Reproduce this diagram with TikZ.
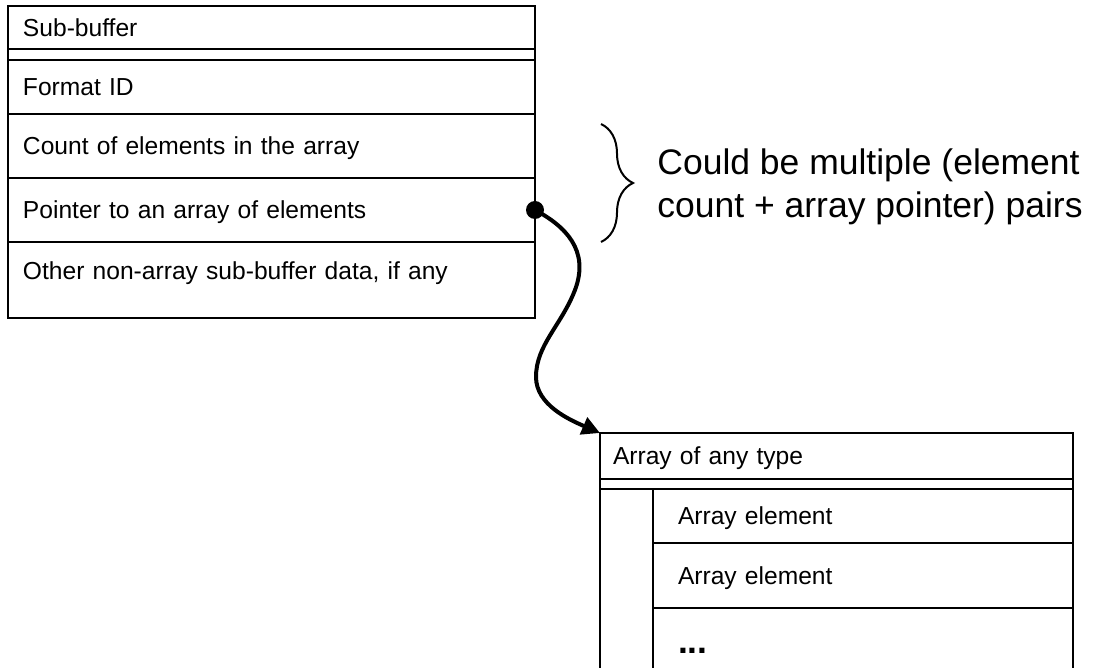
\documentclass[tikz,border=0pt]{standalone}
\usepackage{fontspec}
\setmainfont{Liberation Sans}
\usetikzlibrary{positioning,arrows.meta,decorations.pathreplacing}

\begin{document}
\begin{tikzpicture}[x=0.5pt,y=-0.5pt,
    row/.style={draw,line width=0.75pt,outer sep=0pt,anchor=north west,
        minimum width=263.5pt,text width=248.5pt,inner xsep=7.5pt,align=left,
        font=\fontsize{12.3pt}{14pt}\selectfont,text height=8.9pt,text depth=0pt},
    gaprow/.style={row,text height=0pt,inner ysep=0pt},
    elem/.style={row,minimum width=210pt,text width=185pt,inner xsep=12.5pt},
    bigtext/.style={font=\fontsize{17.75pt}{21.5pt}\selectfont},
    link/.style={line width=2pt,-{Triangle[length=9pt,width=9pt]}}]
\useasboundingbox (0,0) rectangle (1100,668);

% Draw sub-buffer record
\node[row,minimum height=21.5pt] (sbhdr) at (8,6) {Sub-buffer};
\node[gaprow,minimum height=5.5pt,below=0pt of sbhdr] (sbgap) {};
\node[row,minimum height=27pt,below=0pt of sbgap] (fmt) {Format ID};
\node[row,minimum height=32pt,below=0pt of fmt] (cnt) {Count of elements in the array};
\node[row,minimum height=32pt,below=0pt of cnt] (ptrrow) {Pointer to an array of elements};
\node[row,minimum height=38pt,text depth=9.5pt,below=0pt of ptrrow] (other) {Other non-array sub-buffer data, if any};

% Draw array record
\node[row,minimum width=236.5pt,text width=223.5pt,inner xsep=6.5pt,minimum height=23pt] (arr) at (600,433) {Array of any type};
\node[gaprow,minimum width=236.5pt,text width=223.5pt,inner xsep=6.5pt,minimum height=5pt,below=0pt of arr] (argap) {};
\node[draw,line width=0.75pt,outer sep=0pt,anchor=north west,minimum width=26.5pt,minimum height=105.5pt] (arcol) at (argap.south west) {};
\node[elem,minimum height=27pt] (el1) at (arcol.north east) {Array element};
\node[elem,minimum height=32.5pt,below=0pt of el1] (el2) {Array element};
\node[elem,bigtext,minimum height=46pt,text height=0pt,below=0pt of el2] (el3) {\textbf{...}};

% Draw pointer
\draw[link] (ptrrow.east) .. controls (565,226) and (590,250) .. (575,290)
    .. controls (561,326) and (536,345) .. (536,377)
    .. controls (536,405) and (570,420) .. (arr.north west);
\node[circle,fill,inner sep=0pt,minimum size=9pt] (ptr) at (ptrrow.east) {};

% Brace and note
\coordinate (btop) at (601,124);
\coordinate (bbot) at (601,242);
\coordinate (btip) at (633,183);
\draw[line width=1pt,decorate,decoration={brace,amplitude=16pt}] (btop) -- (bbot);
\node[bigtext,align=left,inner sep=0pt,right=12pt of btip,yshift=-2pt] (note) {Could be multiple (element\\count + array pointer) pairs};

\end{tikzpicture}
\end{document}
